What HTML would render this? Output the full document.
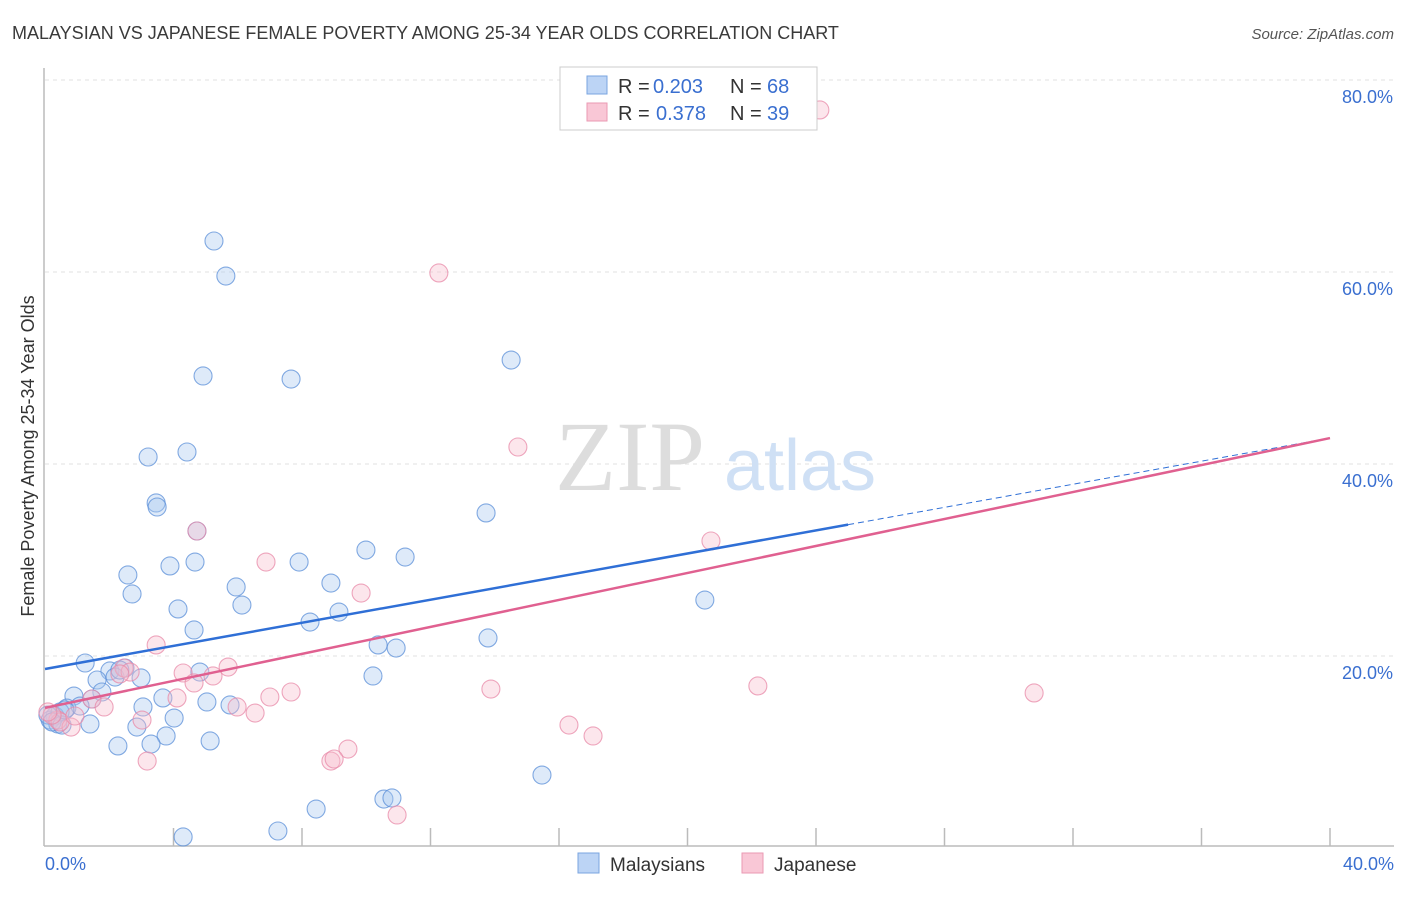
<!DOCTYPE html>
<html><head><meta charset="utf-8"><style>
body{margin:0;background:#fff;font-family:"Liberation Sans",sans-serif;}
</style></head><body>
<svg width="1406" height="892" xmlns="http://www.w3.org/2000/svg">
<text x="12" y="39" font-size="18" fill="#3a3a3a">MALAYSIAN VS JAPANESE FEMALE POVERTY AMONG 25-34 YEAR OLDS CORRELATION CHART</text>
<text x="1394" y="39" font-size="15" fill="#555" font-style="italic" text-anchor="end">Source: ZipAtlas.com</text>
<g id="grid"></g>
<text x="630" y="490" font-size="100" fill="#ddd" font-family="Liberation Serif" text-anchor="middle">ZIP</text>
<text x="800" y="490" font-size="72" fill="#cfe0f5" text-anchor="middle">atlas</text>
<line x1="44" y1="68" x2="44" y2="846" stroke="#bbb" stroke-width="1.5"/>
<line x1="44" y1="846" x2="1394" y2="846" stroke="#bbb" stroke-width="1.5"/>
<g id="ticks"></g>
<g id="pts"></g>
<g id="lines"></g>
<text transform="translate(34,456) rotate(-90)" font-size="18" fill="#333" text-anchor="middle">Female Poverty Among 25-34 Year Olds</text>
<text x="45" y="870" font-size="18" fill="#3a6fd0">0.0%</text>
<text x="1394" y="870" font-size="18" fill="#3a6fd0" text-anchor="end">40.0%</text>
<g font-size="20">
<rect x="560" y="67" width="257" height="63" fill="#fff" stroke="#ccc"/>
<rect x="587" y="76" width="20" height="18" fill="#bcd4f5" stroke="#7aa5e0"/>
<rect x="587" y="103" width="20" height="18" fill="#f9c7d6" stroke="#ea9ab3"/>
<text x="618" y="93" fill="#333">R =</text><text x="653" y="93" fill="#3a6fd0">0.203</text>
<text x="730" y="93" fill="#333">N =</text><text x="767" y="93" fill="#3a6fd0">68</text>
<text x="618" y="120" fill="#333">R =</text><text x="656" y="120" fill="#3a6fd0">0.378</text>
<text x="730" y="120" fill="#333">N =</text><text x="767" y="120" fill="#3a6fd0">39</text>
</g>
<g>
<rect x="578" y="853" width="21" height="20" fill="#bcd4f5" stroke="#7aa5e0"/>
<text x="610" y="871" font-size="19" fill="#333">Malaysians</text>
<rect x="742" y="853" width="21" height="20" fill="#f9c7d6" stroke="#ea9ab3"/>
<text x="774" y="871" font-size="19" fill="#333">Japanese</text>
</g>
</svg>
<script>
const yTicks=[20,40,60,80];
const yTickLabels=["20.0%","40.0%","60.0%","80.0%"];
const xTicks=[4,8,12,16,20,24,28,32,36,40];
const bluePx=[[214,241],[226,276],[203,376],[291,379],[511,360],[148,457],[187,452],[156,503],[157,507],[486,513],[197,531],[366,550],[405,557],[128,575],[170,566],[195,562],[299,562],[236,587],[331,583],[132,594],[242,605],[178,609],[339,612],[310,622],[194,630],[378,645],[396,648],[488,638],[705,600],[85,663],[125,668],[110,671],[97,680],[115,677],[141,678],[200,672],[373,676],[74,696],[102,692],[92,699],[163,698],[207,702],[230,705],[67,708],[80,706],[143,707],[55,716],[50,720],[58,724],[90,724],[174,718],[137,727],[166,736],[118,746],[151,744],[210,741],[542,775],[316,809],[384,799],[392,798],[183,837],[278,831],[120,670],[60,712],[48,715],[52,722],[62,725],[65,710]];
const pinkPx=[[820,110],[439,273],[518,447],[197,531],[711,541],[266,562],[361,593],[156,645],[228,667],[183,673],[213,676],[194,683],[124,668],[130,672],[120,674],[758,686],[491,689],[291,692],[1034,693],[270,697],[177,698],[92,699],[104,707],[237,707],[255,713],[142,720],[58,720],[71,727],[569,725],[593,736],[348,749],[147,761],[331,761],[334,759],[397,815],[60,722],[52,715],[48,712],[75,716]];
const toVal=p=>[+((p[0]-45)/1285*40).toFixed(2),+((848-p[1])/9.6).toFixed(2)];
const malaysiansX=bluePx.map(p=>toVal(p)[0]), malaysiansY=bluePx.map(p=>toVal(p)[1]);
const japaneseX=pinkPx.map(p=>toVal(p)[0]), japaneseY=pinkPx.map(p=>toVal(p)[1]);
const blueTrend=[18.65,42.7]; const pinkTrend=[14.6,42.7]; const blueSolidEnd=25;
const sx=v=>45+v/40*1285, sy=v=>848-v*9.6;
const NS="http://www.w3.org/2000/svg";
function mk(tag,attrs,parent){const e=document.createElementNS(NS,tag);for(const k in attrs)e.setAttribute(k,attrs[k]);document.getElementById(parent).appendChild(e);return e;}
yTicks.forEach((t,i)=>{
 const l=mk('line',{x1:45,x2:1394,y1:sy(t),y2:sy(t),stroke:'#e2e2e2','stroke-dasharray':'4 4'},'grid');
 
 
 const tx=mk('text',{x:1393,y:sy(t)+23,'font-size':18,fill:'#3a6fd0','text-anchor':'end'},'grid');
 tx.textContent=yTickLabels[i];
 
 
});
xTicks.forEach(t=>{
 const l=mk('line',{x1:sx(t),x2:sx(t),y1:828,y2:846,stroke:'#bbb','stroke-width':1.5},'ticks');
 
 
});
function dots(X,Y,fill,stroke,name){X.forEach((x,i)=>{
 const c=mk('circle',{cx:sx(x),cy:sy(Y[i]),r:9,fill:fill,'fill-opacity':0.38,stroke:stroke,'stroke-opacity':0.75,'stroke-width':1.1},'pts');
 
 
});}
dots(malaysiansX,malaysiansY,'#a9c8f0','#5b8fd8','malaysian-point');
dots(japaneseX,japaneseY,'#f7bccd','#e88aa8','japanese-point');
const by=x=>blueTrend[0]+(blueTrend[1]-blueTrend[0])*x/40;
let l1=mk('line',{x1:sx(0),y1:sy(by(0)),x2:sx(blueSolidEnd),y2:sy(by(blueSolidEnd)),stroke:'#2f6fd6','stroke-width':2.5},'lines');


let l2=mk('line',{x1:sx(blueSolidEnd),y1:sy(by(blueSolidEnd)),x2:sx(40),y2:sy(by(40)),stroke:'#2f6fd6','stroke-width':1,'stroke-dasharray':'6 4'},'lines');


let l3=mk('line',{x1:sx(0),y1:sy(pinkTrend[0]),x2:sx(40),y2:sy(pinkTrend[1]),stroke:'#e06090','stroke-width':2.5},'lines');


</script>
</body></html>
